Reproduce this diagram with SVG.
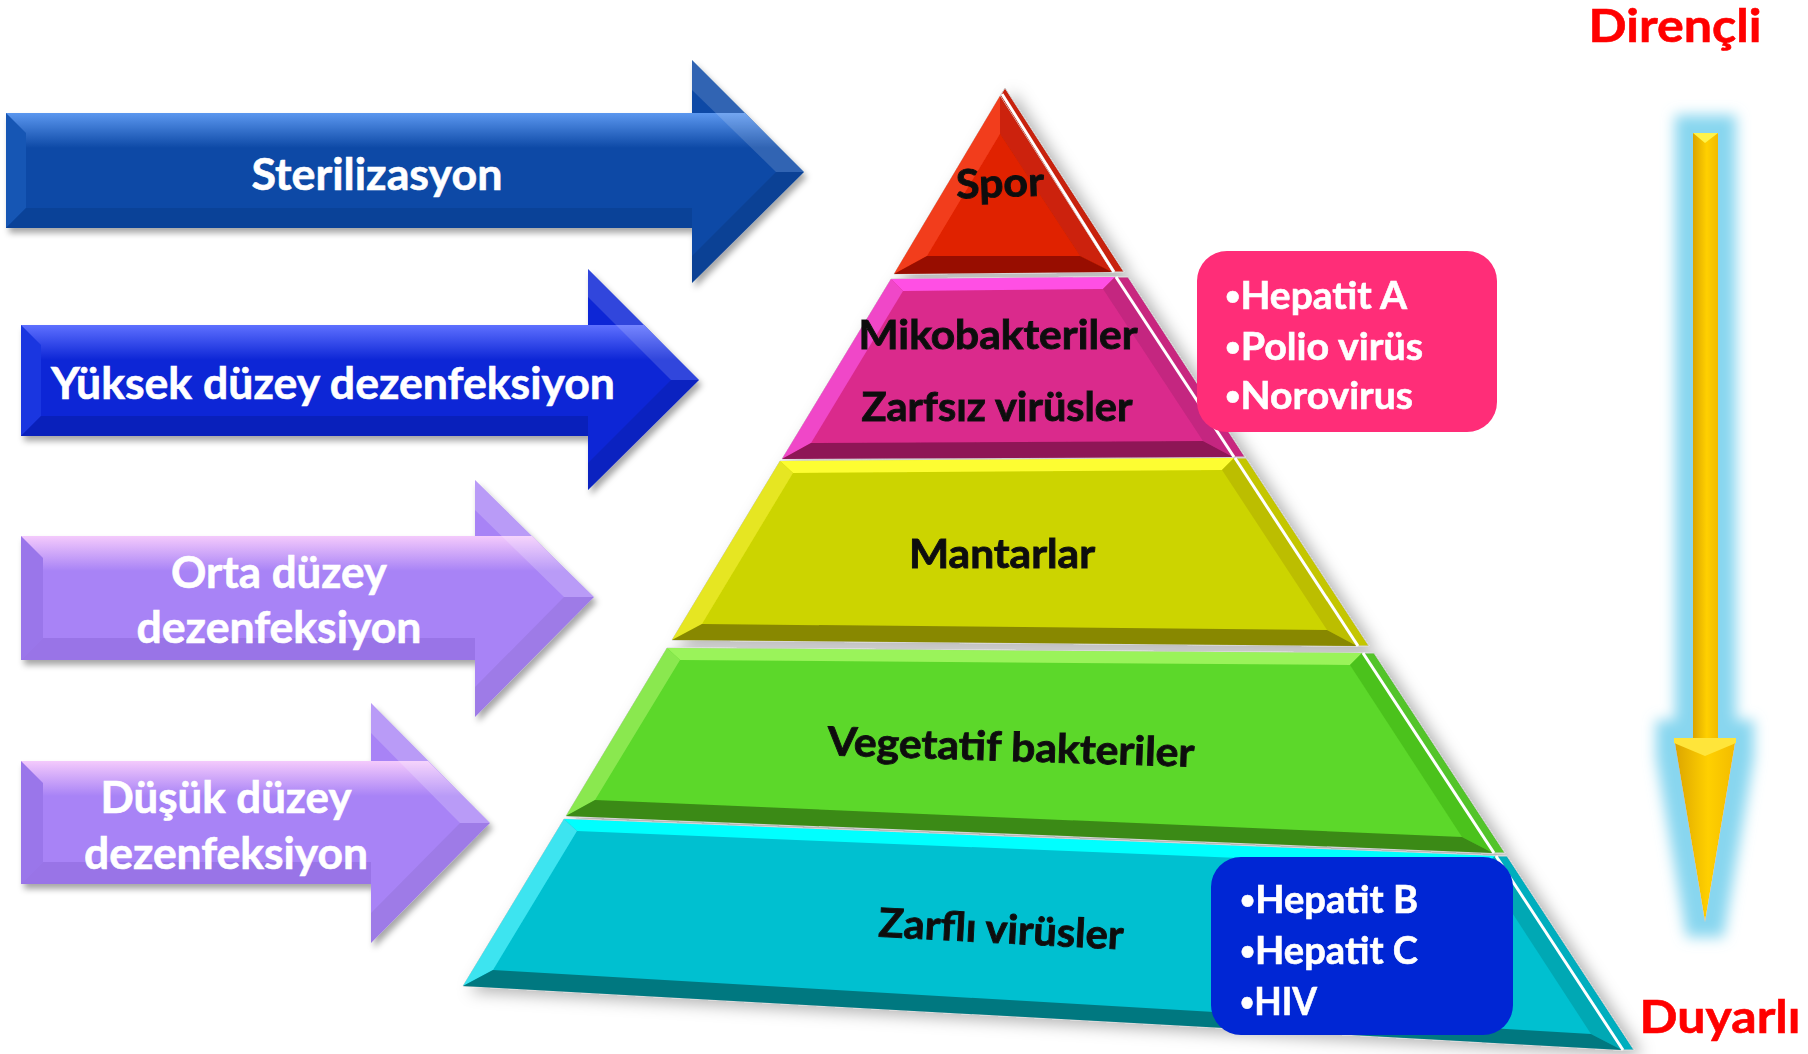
<svg xmlns="http://www.w3.org/2000/svg" width="1808" height="1054" viewBox="0 0 1808 1054">
<defs>
<style>
.lbl{font-family:Lato,"Open Sans","DejaVu Sans",sans-serif;font-weight:bold}
.wt{fill:#ffffff;font-size:44px;stroke:#ffffff;stroke-width:0.6}
.bt{fill:#111111;font-size:40px;stroke:#111111;stroke-width:0.9}
.box{fill:#ffffff;font-size:38px;stroke:#ffffff;stroke-width:0.6}
.red{fill:#ff0000;font-size:46px;stroke:#ff0000;stroke-width:0.6}
.bul{font-size:26px}
.wl{stroke:#ffffff;stroke-width:3;fill:none}
</style>
<filter id="sh" x="-5%" y="-10%" width="115%" height="130%">
<feDropShadow dx="3" dy="5" stdDeviation="3" flood-color="#000" flood-opacity="0.35"/>
</filter>
<filter id="psh" x="-5%" y="-5%" width="115%" height="115%">
<feDropShadow dx="8" dy="5" stdDeviation="8" flood-color="#000" flood-opacity="0.3"/>
</filter>
<filter id="glow" x="-200%" y="-10%" width="500%" height="120%">
<feMorphology in="SourceAlpha" operator="dilate" radius="18" result="d"/>
<feGaussianBlur in="d" stdDeviation="7" result="b"/>
<feFlood flood-color="#88d6ef"/>
<feComposite in2="b" operator="in" result="g"/>
<feMerge><feMergeNode in="g"/><feMergeNode in="SourceGraphic"/></feMerge>
</filter>
<linearGradient id="hl1" x1="0" y1="0" x2="0" y2="1"><stop offset="0" stop-color="#5b97ef"/><stop offset="1" stop-color="#5b97ef" stop-opacity="0"/></linearGradient>
<linearGradient id="hl2" x1="0" y1="0" x2="0" y2="1"><stop offset="0" stop-color="#5e70ff"/><stop offset="1" stop-color="#5e70ff" stop-opacity="0"/></linearGradient>
<linearGradient id="hl3" x1="0" y1="0" x2="0" y2="1"><stop offset="0" stop-color="#f4cafc"/><stop offset="1" stop-color="#f4cafc" stop-opacity="0"/></linearGradient>
<linearGradient id="yel" x1="0" y1="0" x2="1" y2="0"><stop offset="0" stop-color="#dba400"/><stop offset="0.55" stop-color="#ffd000"/><stop offset="1" stop-color="#f2bb00"/></linearGradient>
</defs>
<rect width="1808" height="1054" fill="#ffffff"/>

<g id="arrow-sterilizasyon">
<polygon filter="url(#sh)" fill="#0a4aa6" points="6,113 692,113 692,60 804,172 692,283 692,228 6,228"/>
<polygon fill="url(#hl1)" points="6,113 745,113 780,148 6,148"/>
<polygon fill="#1656b4" points="6,113 26,133 26,208 6,228"/>
<polygon fill="#083e90" opacity="0.6" points="6,228 26,208 692,208 692,228"/>
<polygon fill="#ffffff" opacity="0.15" points="692,60 804,172 776,172 692,90"/>
<polygon fill="#000000" opacity="0.1" points="692,283 804,172 776,172 692,256"/>
<text class="lbl wt" x="377" y="190" text-anchor="middle" textLength="251" lengthAdjust="spacingAndGlyphs">Sterilizasyon</text>
</g>

<g id="arrow-yuksek">
<polygon filter="url(#sh)" fill="#0a26d6" points="21,325 588,325 588,269 699,380 588,490 588,436 21,436"/>
<polygon fill="url(#hl2)" points="21,325 644,325 679,360 21,360"/>
<polygon fill="#1a36e0" points="21,325 41,345 41,416 21,436"/>
<polygon fill="#061ca8" opacity="0.6" points="21,436 41,416 588,416 588,436"/>
<polygon fill="#ffffff" opacity="0.15" points="588,269 699,380 671,380 588,297"/>
<polygon fill="#000000" opacity="0.1" points="588,490 699,380 671,380 588,463"/>
<text class="lbl wt" x="333" y="399" text-anchor="middle" textLength="564" lengthAdjust="spacingAndGlyphs">Yüksek düzey dezenfeksiyon</text>
</g>

<g id="arrow-orta">
<polygon filter="url(#sh)" fill="#a883f6" points="21,536 475,536 475,480 594,597 475,717 475,660 21,660"/>
<polygon fill="url(#hl3)" points="21,536 532,536 567,571 21,571"/>
<polygon fill="#9a76ea" points="21,536 43,558 43,638 21,660"/>
<polygon fill="#8a66d8" opacity="0.5" points="21,660 43,638 475,638 475,660"/>
<polygon fill="#ffffff" opacity="0.2" points="475,480 594,597 564,597 475,510"/>
<polygon fill="#000000" opacity="0.06" points="475,717 594,597 564,597 475,687"/>
<text class="lbl wt" x="279" y="588" text-anchor="middle" textLength="216" lengthAdjust="spacingAndGlyphs">Orta düzey</text>
<text class="lbl wt" x="279" y="643" text-anchor="middle" textLength="285" lengthAdjust="spacingAndGlyphs">dezenfeksiyon</text>
</g>

<g id="arrow-dusuk">
<polygon filter="url(#sh)" fill="#a883f6" points="21,761 371,761 371,703 490,823 371,943 371,884 21,884"/>
<polygon fill="url(#hl3)" points="21,761 428,761 463,796 21,796"/>
<polygon fill="#9a76ea" points="21,761 43,783 43,862 21,884"/>
<polygon fill="#8a66d8" opacity="0.5" points="21,884 43,862 371,862 371,884"/>
<polygon fill="#ffffff" opacity="0.2" points="371,703 490,823 460,823 371,733"/>
<polygon fill="#000000" opacity="0.06" points="371,943 490,823 460,823 371,913"/>
<text class="lbl wt" x="226" y="813" text-anchor="middle" textLength="251" lengthAdjust="spacingAndGlyphs">Düşük düzey</text>
<text class="lbl wt" x="226" y="869" text-anchor="middle" textLength="284" lengthAdjust="spacingAndGlyphs">dezenfeksiyon</text>
</g>

<g id="pyramid" filter="url(#psh)">
<g id="layer-spor">
<polygon fill="#c82210" stroke="#d0d0d0" stroke-width="1" points="1005,88 1124,272 1112,272 1000,96"/>
<polygon fill="#e02000" stroke="#d0d0d0" stroke-width="1" points="1000,96 1112,272 894,274"/>
<polygon fill="#f23c1a" points="1000,96 1000,134 927,256 894,274"/>
<polygon fill="#cc2208" points="1000,96 1112,272 1080,256 1000,134"/>
<polygon fill="#981000" points="894,274 927,256 1080,256 1112,272"/>
<line class="wl" x1="1002" y1="94" x2="1114" y2="272"/>
<text class="lbl bt" x="1000" y="197" text-anchor="middle" textLength="88" lengthAdjust="spacingAndGlyphs" transform="rotate(-2 1000 185)">Spor</text>
</g>
<g id="layer-mikobakteriler">
<polygon fill="#c8287f" stroke="#d0d0d0" stroke-width="1" points="1115,277 1128,277 1245,457 1233,457"/>
<polygon fill="#da2a8c" stroke="#d0d0d0" stroke-width="1" points="891,279 1115,277 1233,457 782,459"/>
<polygon fill="#ff50e4" points="891,279 1115,277 1103,289 903,291"/>
<polygon fill="#f046c8" points="891,279 903,291 811,443 782,459"/>
<polygon fill="#c42880" points="1115,277 1233,457 1203,441 1103,289"/>
<polygon fill="#8e1656" points="782,459 811,443 1203,441 1233,457"/>
<line class="wl" x1="1116" y1="277" x2="1234" y2="457"/>
<text class="lbl bt" x="998" y="349" text-anchor="middle" textLength="279" lengthAdjust="spacingAndGlyphs">Mikobakteriler</text>
<text class="lbl bt" x="997" y="421" text-anchor="middle" textLength="271" lengthAdjust="spacingAndGlyphs">Zarfsız virüsler</text>
</g>
<g id="layer-mantarlar">
<polygon fill="#c4c600" stroke="#d0d0d0" stroke-width="1" points="1234,458 1246,458 1369,646 1357,646"/>
<polygon fill="#ccd400" stroke="#d0d0d0" stroke-width="1" points="780,461 1234,458 1357,646 672,640"/>
<polygon fill="#fdfd30" points="780,461 1234,458 1222,470 793,473"/>
<polygon fill="#e6e620" points="780,461 793,473 702,624 672,640"/>
<polygon fill="#bcbe00" points="1234,458 1357,646 1327,630 1222,470"/>
<polygon fill="#888800" points="672,640 702,624 1327,630 1357,646"/>
<line class="wl" x1="1235" y1="458" x2="1358" y2="646"/>
<text class="lbl bt" x="1002" y="568" text-anchor="middle" textLength="186" lengthAdjust="spacingAndGlyphs">Mantarlar</text>
</g>
<g id="layer-vegetatif">
<polygon fill="#52c42a" stroke="#d0d0d0" stroke-width="1" points="1362,653 1374,653 1505,853 1493,853"/>
<polygon fill="#5bd82a" stroke="#d0d0d0" stroke-width="1" points="667,648 1362,653 1493,853 566,816"/>
<polygon fill="#9af35a" points="667,648 1362,653 1350,665 680,660"/>
<polygon fill="#8ae850" points="667,648 680,660 595,800 566,816"/>
<polygon fill="#4cc21c" points="1362,653 1493,853 1462,837 1350,665"/>
<polygon fill="#3a8a16" points="566,816 595,800 1462,837 1493,853"/>
<line class="wl" x1="1363" y1="653" x2="1494" y2="853"/>
<text class="lbl bt" x="1011" y="761" text-anchor="middle" textLength="367" lengthAdjust="spacingAndGlyphs" transform="rotate(1.8 1011 750)">Vegetatif bakteriler</text>
</g>
<g id="layer-zarfli">
<polygon fill="#00aebe" stroke="#d0d0d0" stroke-width="1" points="1495,856 1507,856 1634,1050 1622,1050"/>
<polygon fill="#00c0d0" stroke="#d0d0d0" stroke-width="1" points="564,819 1495,856 1622,1050 463,986"/>
<polygon fill="#00ffff" points="564,819 1495,856 1483,868 577,831"/>
<polygon fill="#3ce4f0" points="564,819 577,831 493,970 463,986"/>
<polygon fill="#00a8b4" points="1495,856 1622,1050 1591,1034 1483,868"/>
<polygon fill="#007880" points="463,986 493,970 1591,1034 1622,1050"/>
<line class="wl" x1="1496" y1="856" x2="1623" y2="1050"/>
<text class="lbl bt" x="1001" y="943" text-anchor="middle" textLength="245" lengthAdjust="spacingAndGlyphs" transform="rotate(3 1001 930)">Zarflı virüsler</text>
</g>
</g>

<g id="box-zarfsiz">
<rect x="1197" y="251" width="300" height="181" rx="30" fill="#ff2d78"/>
<text class="lbl box" x="1225" y="309" textLength="182" lengthAdjust="spacingAndGlyphs"><tspan class="bul" dy="-4">•</tspan><tspan dy="4">Hepatit A</tspan></text>
<text class="lbl box" x="1225" y="360" textLength="198" lengthAdjust="spacingAndGlyphs"><tspan class="bul" dy="-4">•</tspan><tspan dy="4">Polio virüs</tspan></text>
<text class="lbl box" x="1225" y="409" textLength="188" lengthAdjust="spacingAndGlyphs"><tspan class="bul" dy="-4">•</tspan><tspan dy="4">Norovirus</tspan></text>
</g>

<g id="box-zarfli">
<rect x="1211" y="857" width="302" height="178" rx="30" fill="#0026d4"/>
<text class="lbl box" x="1240" y="913" textLength="178" lengthAdjust="spacingAndGlyphs"><tspan class="bul" dy="-4">•</tspan><tspan dy="4">Hepatit B</tspan></text>
<text class="lbl box" x="1240" y="964" textLength="178" lengthAdjust="spacingAndGlyphs"><tspan class="bul" dy="-4">•</tspan><tspan dy="4">Hepatit C</tspan></text>
<text class="lbl box" x="1240" y="1015" textLength="77" lengthAdjust="spacingAndGlyphs"><tspan class="bul" dy="-4">•</tspan><tspan dy="4">HIV</tspan></text>
</g>

<g id="connectors">
<g id="resistance-arrow" filter="url(#glow)">
<rect x="1693" y="133" width="25" height="607" fill="url(#yel)"/>
<polygon fill="url(#yel)" points="1674,738 1736,738 1705,922"/>
</g>
<polygon fill="#fff34a" points="1693,133 1718,133 1705,143"/>
<polygon fill="#ffe53a" points="1674,738 1736,738 1736,743 1705,756 1674,743"/>
</g>

<g id="label-direncli">
<text class="lbl red" x="1675" y="42" text-anchor="middle" textLength="173" lengthAdjust="spacingAndGlyphs">Dirençli</text>
</g>
<g id="label-duyarli">
<text class="lbl red" x="1720" y="1033" text-anchor="middle" textLength="161" lengthAdjust="spacingAndGlyphs">Duyarlı</text>
</g>
</svg>
